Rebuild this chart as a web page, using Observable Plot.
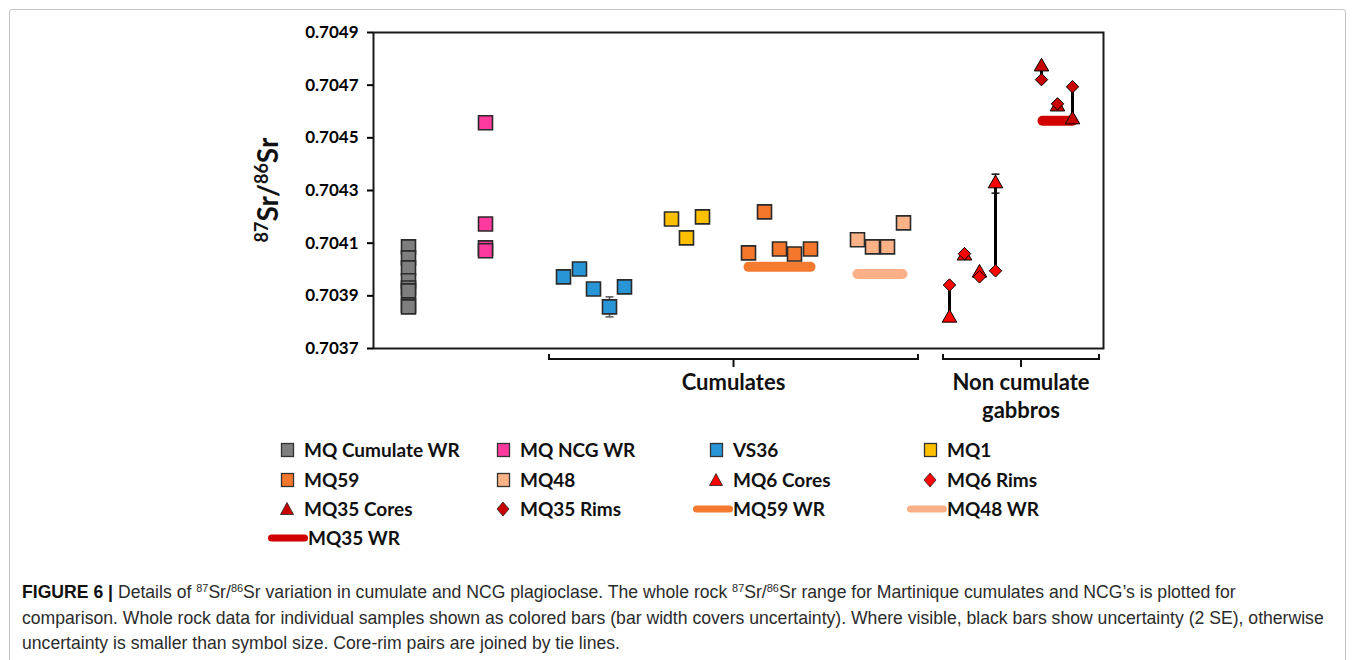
<!DOCTYPE html>
<html><head><meta charset="utf-8">
<script src="https://cdn.jsdelivr.net/npm/d3@7"></script>
<script src="https://cdn.jsdelivr.net/npm/@observablehq/plot@0.6"></script>
<style>
body{margin:0;background:#fff;width:1355px;height:660px;overflow:hidden;position:relative;font-family:Lato,"Open Sans",sans-serif;}
#box{position:absolute;left:9px;top:9px;width:1335px;height:700px;border:1px solid #c4c4c4;border-radius:3px;}
#chart{position:absolute;left:0;top:0;}
#legend{position:absolute;left:0;top:0;width:1355px;height:560px;pointer-events:none;}
.li{position:absolute;font-weight:bold;font-size:19px;color:#111;white-space:nowrap;line-height:20px;}
#caption{position:absolute;left:22px;top:580px;font-family:"Liberation Sans",Arial,sans-serif;font-size:16px;line-height:25.5px;color:#2b2b2b;white-space:nowrap;}
#caption b{color:#111}
#caption sup{font-size:0.62em;position:relative;top:-0.55em;vertical-align:baseline;line-height:0}
</style></head>
<body>
<div id="box"></div>
<div id="chart"></div>
<div id="legend"></div>
<div id="caption">
<div id="cap1"><b>FIGURE 6 |</b> Details of <sup>87</sup>Sr/<sup>86</sup>Sr variation in cumulate and NCG plagioclase. The whole rock <sup>87</sup>Sr/<sup>86</sup>Sr range for Martinique cumulates and NCG’s is plotted for</div>
<div id="cap2">comparison. Whole rock data for individual samples shown as colored bars (bar width covers uncertainty). Where visible, black bars show uncertainty (2 SE), otherwise</div>
<div id="cap3">uncertainty is smaller than symbol size. Core-rim pairs are joined by tie lines.</div>
</div>
<script>
// ---------- data ----------
const yTicks = [0.7037, 0.7039, 0.7041, 0.7043, 0.7045, 0.7047, 0.7049];

const cumWR_x = 3.5;
const cumWR = [0.704086, 0.704044, 0.704006, 0.703957, 0.703930, 0.703919, 0.703865, 0.703858];
const ncgWR_x = 11.2;
const ncgWR = [0.704557, 0.704173, 0.704082, 0.704071];
const vs36_x = [19.0, 20.6, 22.0, 23.6, 25.1];
const vs36 = [0.703972, 0.704002, 0.703926, 0.703858, 0.703934];
const vs36_err = [0, 0, 0, 0.000038, 0];
const mq1_x = [29.8, 31.3, 32.9];
const mq1 = [0.704192, 0.704120, 0.704200];
const mq59_x = [37.5, 39.1, 40.6, 42.1, 43.7];
const mq59 = [0.704063, 0.704219, 0.704078, 0.704059, 0.704078];
const mq48_x = [48.4, 49.9, 51.4, 53.0];
const mq48 = [0.704113, 0.704086, 0.704086, 0.704177];
const mq6_x = [57.6, 59.1, 60.6, 62.2];
const mq6Cores = [0.703816, 0.704052, 0.703987, 0.704326];
const mq6CoresErr = [0, 0, 0, 0.000036];
const mq6Rims = [0.703941, 0.704060, 0.703972, 0.703995];
const mq35_x = [66.8, 68.4, 69.9];
const mq35Cores = [0.704770, 0.704618, 0.704569];
const mq35Rims = [0.704721, 0.704629, 0.704694];
const wrNames = ["MQ59 WR", "MQ48 WR", "MQ35 WR"];
const wrX1 = [37.5, 48.4, 66.9];
const wrX2 = [43.7, 52.9, 69.9];
const wrValue = [0.704010, 0.703983, 0.704565];
const groupNames = ["Cumulates", "Non cumulate|gabbros"];
const groupX1 = [17.6, 57.0];
const groupX2 = [54.5, 72.6];

// ---------- styles ----------
const C = {
  "MQ Cumulate WR": "#7f7f7f", "MQ NCG WR": "#ff3a9f", "VS36": "#2896d6", "MQ1": "#ffc000",
  "MQ59": "#f5772c", "MQ48": "#fbb287", "MQ6": "#ff0000", "MQ35": "#c80000",
  "MQ59 WR": "#f57a30", "MQ48 WR": "#fbb089", "MQ35 WR": "#d00000"
};

const rows = (xs, ys, errs) => ys.map((y, i) => ({x: Array.isArray(xs) ? xs[i] : xs, y, e: errs ? errs[i] : 0}));
const squareSets = [
  ["MQ Cumulate WR", rows(cumWR_x, cumWR)],
  ["MQ NCG WR", rows(ncgWR_x, ncgWR)],
  ["VS36", rows(vs36_x, vs36, vs36_err)],
  ["MQ1", rows(mq1_x, mq1)],
  ["MQ59", rows(mq59_x, mq59)],
  ["MQ48", rows(mq48_x, mq48)]
].map(([n, d]) => [n, d.slice().sort((a, b) => b.y - a.y)]);

const pairs = [
  ...mq6_x.map((x, i) => ({s: "MQ6", x, core: mq6Cores[i], rim: mq6Rims[i], e: mq6CoresErr[i]})),
  ...mq35_x.map((x, i) => ({s: "MQ35", x, core: mq35Cores[i], rim: mq35Rims[i], e: 0}))
];
const wr = wrNames.map((n, i) => ({n, x1: wrX1[i], x2: wrX2[i], y: wrValue[i]}));
const errs = [
  ...squareSets.flatMap(([n, d]) => d.filter(r => r.e > 0).map(r => ({x: r.x, y: r.y, e: r.e, c: "#555"}))),
  ...pairs.filter(p => p.e > 0).map(p => ({x: p.x, y: p.core, e: p.e, c: "#111"}))
];
const capSymbol = {draw(ctx, size) { const w = Math.sqrt(size); ctx.moveTo(-w / 2, 0); ctx.lineTo(w / 2, 0); }};

const marks = [
  Plot.frame({stroke: "#1a1a1a", strokeWidth: 2}),
  Plot.axisY({ticks: yTicks, tickFormat: d => d.toFixed(4), tickSize: 6, tickPadding: 9, fontSize: 17, label: null, strokeWidth: 2}),
  ...wr.map(d => Plot.link([d], {x1: "x1", x2: "x2", y1: "y", y2: "y", stroke: C[d.n], strokeWidth: 10, strokeLinecap: "round"})),
  Plot.ruleX(pairs, {x: "x", y1: "core", y2: "rim", stroke: "#000", strokeWidth: 3}),
  Plot.ruleX(errs, {x: "x", y1: d => d.y - d.e, y2: d => d.y + d.e, stroke: "c", strokeWidth: 1.5}),
  Plot.dot(errs, {x: "x", y: d => d.y - d.e, symbol: capSymbol, r: 4.5, stroke: "c", strokeWidth: 1.5}),
  Plot.dot(errs, {x: "x", y: d => d.y + d.e, symbol: capSymbol, r: 4.5, stroke: "c", strokeWidth: 1.5}),
  ...squareSets.map(([n, d]) => Plot.dot(d, {x: "x", y: "y", symbol: "square", r: 7.9, fill: C[n], stroke: "#2a2a2a", strokeWidth: 1.6, fillOpacity: 1})),
  ...["MQ6", "MQ35"].map(s => Plot.dot(pairs.filter(p => p.s === s), {x: "x", y: "core", symbol: "triangle", r: 5.4, fill: C[s], stroke: "#000", strokeWidth: 1})),
  ...["MQ6", "MQ35"].map(s => Plot.dot(pairs.filter(p => p.s === s), {x: "x", y: "rim", symbol: "diamond2", r: 5.6, fill: C[s], stroke: "#000", strokeWidth: 1}))
];

const plot = Plot.plot({
  width: 1355, height: 430,
  marginLeft: 373, marginRight: 252, marginTop: 32, marginBottom: 82,
  x: {domain: [0, 73], axis: null},
  y: {domain: [0.7037, 0.7049]},
  style: {fontFamily: "Lato, 'Open Sans', sans-serif", color: "#000", background: "transparent", overflow: "visible"},
  marks
});
document.getElementById("chart").appendChild(plot);

const svg = d3.select(plot);
svg.selectAll('g[aria-label="y-axis tick label"] text').style("font-weight", "bold");
svg.selectAll('g[aria-label="y-axis tick"] path').attr("stroke-width", 2);

// group brackets
const xs = plot.scale("x"), ys = plot.scale("y");
const yb = ys.apply(0.7037) + 11;
const gb = svg.append("g").attr("stroke", "#111").attr("stroke-width", 2).attr("fill", "none");
groupNames.forEach((name, i) => {
  const a = xs.apply(groupX1[i]), b = xs.apply(groupX2[i]), m = (a + b) / 2;
  gb.append("path").attr("d", `M${a},${yb - 5}V${yb}H${b}V${yb - 5}M${m},${yb}V${yb + 8}`);
  const t = svg.append("text").attr("x", m).attr("y", yb + 31).attr("text-anchor", "middle")
    .attr("font-size", 22).attr("font-weight", "bold").attr("fill", "#111");
  name.split("|").forEach((line, k) => t.append("tspan").attr("x", m).attr("dy", k ? 28 : 0).text(line));
});

// y label with superscripts
const yl = svg.append("text").attr("transform", `translate(278,${(ys.apply(0.7049) + ys.apply(0.7037)) / 2}) rotate(-90)`)
  .attr("text-anchor", "middle").attr("font-size", 28).attr("font-weight", "bold").attr("fill", "#111");
yl.append("tspan").attr("font-size", 18).attr("dy", -10).text("87");
yl.append("tspan").attr("dy", 10).text("Sr/");
yl.append("tspan").attr("font-size", 18).attr("dy", -10).text("86");
yl.append("tspan").attr("dy", 10).text("Sr");

// legend
const legendItems = [
  ["MQ Cumulate WR", "square", C["MQ Cumulate WR"]], ["MQ NCG WR", "square", C["MQ NCG WR"]], ["VS36", "square", C["VS36"]], ["MQ1", "square", C["MQ1"]],
  ["MQ59", "square", C["MQ59"]], ["MQ48", "square", C["MQ48"]], ["MQ6 Cores", "triangle", C["MQ6"]], ["MQ6 Rims", "diamond", C["MQ6"]],
  ["MQ35 Cores", "triangle", C["MQ35"]], ["MQ35 Rims", "diamond", C["MQ35"]], ["MQ59 WR", "line", C["MQ59 WR"]], ["MQ48 WR", "line", C["MQ48 WR"]],
  ["MQ35 WR", "line", C["MQ35 WR"]]
];
const colText = [304, 520, 733, 947], rowY = [450, 480, 509, 538];
const leg = document.getElementById("legend");
legendItems.forEach(([label, kind, color], i) => {
  const c = i % 4, r = Math.floor(i / 4);
  const tx = kind === "line" ? colText[c] + (c === 0 ? 4 : 0) : colText[c];
  const s = document.createElementNS("http://www.w3.org/2000/svg", "svg");
  s.setAttribute("width", 48); s.setAttribute("height", 20);
  s.style.position = "absolute"; s.style.left = (tx - 44) + "px"; s.style.top = (rowY[r] - 10) + "px";
  let inner = "";
  if (kind === "square") inner = `<rect x="21.5" y="3.5" width="12" height="13" fill="${color}" stroke="#333" stroke-width="1.3"/>`;
  if (kind === "triangle") inner = `<path d="M27,3.5 L33.5,15.5 L20.5,15.5 Z" fill="${color}" stroke="#222" stroke-width="0.8"/>`;
  if (kind === "diamond") inner = `<path d="M27,3 L33,10 L27,17 L21,10 Z" fill="${color}" stroke="#222" stroke-width="0.8"/>`;
  if (kind === "line") inner = `<line x1="7.5" y1="10" x2="40.5" y2="10" stroke="${color}" stroke-width="7" stroke-linecap="round"/>`;
  s.innerHTML = inner;
  leg.appendChild(s);
  const d = document.createElement("div");
  d.className = "li"; d.textContent = label;
  d.style.left = tx + "px"; d.style.top = (rowY[r] - 10) + "px";
  leg.appendChild(d);
});

// caption: size to the reference line width
const cap = document.getElementById("caption");
const c2 = document.getElementById("cap2");
c2.style.display = "inline-block";
const wNat = c2.getBoundingClientRect().width;
c2.style.display = "";
cap.style.fontSize = (16 * 1302 / wNat).toFixed(2) + "px";
</script>
</body></html>
